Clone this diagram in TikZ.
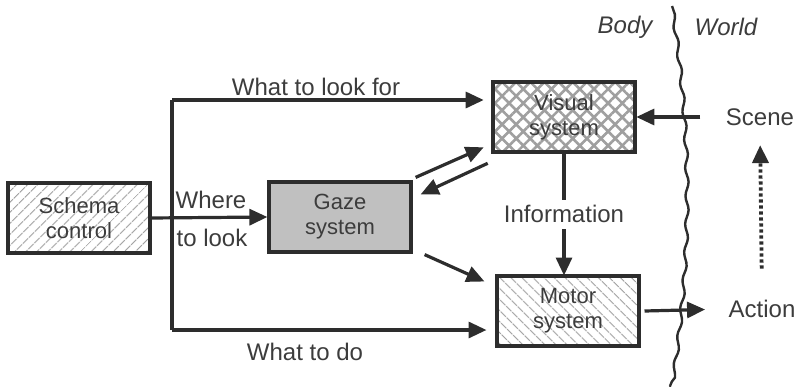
\documentclass[tikz,border=0pt]{standalone}
\usepackage{fontspec}
\setmainfont{Liberation Sans}
\usetikzlibrary{arrows.meta, calc, patterns, patterns.meta, decorations.pathmorphing}
\definecolor{figline}{RGB}{45,45,45}
\definecolor{figgray}{RGB}{192,192,192}
\definecolor{figtext}{RGB}{60,60,60}

\begin{document}
\begin{tikzpicture}[x=0.5pt, y=-0.5pt, >={Triangle[length=9pt, width=8pt]},
  line width=1.6pt, figline,
  box/.style={draw=figline, line width=1.6pt, minimum width=71pt, minimum height=35pt,
    align=center, inner sep=0pt, text=figtext, font=\fontsize{11}{12.5}\selectfont},
  lbl/.style={text=figtext, inner sep=1pt, font=\fontsize{12}{14}\selectfont}]

\useasboundingbox (0,0) rectangle (796,386);

% --- Cajas ---
\node[box, pattern={Lines[angle=45, distance=4pt, line width=0.5pt]}, pattern color=gray!80]
  (schema) at (79,218) {Schema\\control};
\node[box, fill=figgray] (gaze) at (340,217) {Gaze\\system};
\node[box, pattern={Hatch[angle=45, distance=5pt, line width=1.3pt]}, pattern color=gray!75]
  (visual) at (564,117) {Visual\\system};
\node[box, pattern={Lines[angle=-45, distance=4pt, line width=0.5pt]}, pattern color=gray!80]
  (motor) at (568,311) {Motor\\system};

% --- Textos ---
\node[lbl] (lookfor) at (316,87) {What to look for};
\node[lbl] (where) at (211,200) {Where};
\node[lbl] (tolook) at (212,238) {to look};
\node[lbl] (todo) at (305,352) {What to do};
\node[lbl, font=\fontsize{12}{14}\selectfont\itshape] (body) at (625,27) {Body};
\node[lbl, font=\fontsize{12}{14}\selectfont\itshape] (world) at (726,27) {World};
\node[lbl] (scene) at (760,117) {Scene};
\node[lbl] (action) at (762,309) {Action};

% --- Frontera cuerpo / mundo ---
\draw[line width=1.2pt, decorate, decoration={snake, amplitude=0.8pt, segment length=14pt}]
  (672,6) .. controls (692,140) and (690,260) .. (670,386);

% --- Conexiones desde el control ---
\coordinate (tl) at (172,100);
\coordinate (bl) at (172,330);
\draw (bl) -- (tl);
\draw[->, shorten >=4pt] (tl) -- (tl -| visual.west);
\draw[->, shorten >=5pt] (bl) -- (bl -| motor.west);
\draw[->] (schema.east) -- (gaze.west);

% --- Mirada, visión y motor ---
\draw[->] ($(gaze.north east)+(3,-3)$) -- ($(visual.south west)+(-8,-6)$);
\draw[->] ($(visual.south west)+(-4,10)$) -- ($(gaze.north east)+(8,14)$);
\draw[->] ($(gaze.south east)+(12,1)$) -- ($(motor.north west)+(-12,6)$);
\draw[->] (visual.south) -- (motor.north -| visual.south)
  node[lbl, midway, fill=white, inner sep=3pt] (info) {Information};

% --- Mundo ---
\draw[->, shorten <=11pt] (scene.west) -- (visual.east);
\draw[->, shorten >=10pt] ($(motor.east)+(5,0)$) -- (action.west);
\draw[->, line width=1.9pt, dash pattern=on 1.6pt off 1.4pt, shorten <=14pt, shorten >=8pt]
  (action.north) -- (scene.south);

\end{tikzpicture}
\end{document}
